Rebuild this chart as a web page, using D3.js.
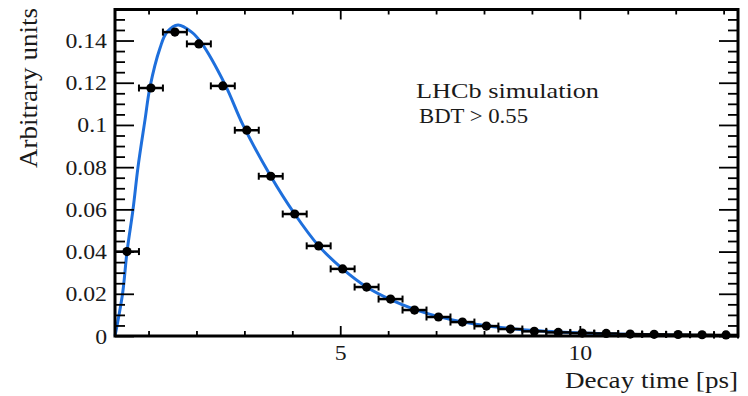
<!DOCTYPE html>
<html><head><meta charset="utf-8">
<script src="https://cdn.jsdelivr.net/npm/d3@7"></script>
<style>body{margin:0;background:#fff} svg{display:block} text{font-family:"Liberation Serif","Times New Roman",Times,"DejaVu Serif",serif;}</style>
</head><body><svg id="c" width="748" height="396"></svg>
<script>
// ---- data ----
const binCenters = [0.55, 1.05, 1.55, 2.05, 2.55, 3.05, 3.55, 4.05, 4.55, 5.05, 5.55, 6.05, 6.55,
                    7.05, 7.55, 8.05, 8.55, 9.05, 9.55, 10.05, 10.55, 11.05, 11.55, 12.05, 12.55, 13.05];
const binValues  = [0.0400, 0.1175, 0.1440, 0.1384, 0.1185, 0.0975, 0.0757, 0.0578, 0.0427, 0.0318,
                    0.0232, 0.0175, 0.0123, 0.0090, 0.0066, 0.0047, 0.0033, 0.0022, 0.0017, 0.0014,
                    0.0012, 0.0009, 0.0008, 0.0007, 0.0006, 0.0005];
const binHalfWidth = 0.25;

const fitTimes  = [0.30, 0.46, 0.55, 0.676, 0.78, 0.926, 1.03, 1.24, 1.385, 1.615, 1.90, 2.10, 2.60,
                   2.97, 3.55, 4.05, 4.55, 5.05, 5.55, 6.05, 6.55, 7.05, 7.55, 8.05, 8.55, 9.05,
                   9.55, 10.05, 11.05, 12.05, 13.30];
const fitValues = [0.0, 0.0204, 0.0398, 0.0600, 0.0800, 0.1024, 0.1180, 0.1365, 0.1440, 0.1474,
                   0.1440, 0.1390, 0.1190, 0.1000, 0.0757, 0.0578, 0.0427, 0.0318, 0.0232, 0.0172,
                   0.0126, 0.0092, 0.0067, 0.0049, 0.0036, 0.0026, 0.0019, 0.0014, 0.0008, 0.0004, 0.0002];

const yMajorTicks = [0, 0.02, 0.04, 0.06, 0.08, 0.10, 0.12, 0.14];
const yTickLabels = ["0", "0.02", "0.04", "0.06", "0.08", "0.1", "0.12", "0.14"];
const yMinorTicks = [0.005, 0.01, 0.015, 0.025, 0.03, 0.035, 0.045, 0.05, 0.055, 0.065, 0.07, 0.075,
                     0.085, 0.09, 0.095, 0.105, 0.11, 0.115, 0.125, 0.13, 0.135, 0.145, 0.15];
const xMajorTicks = [5, 10];
const xTickLabels = ["5", "10"];
const xMinorTicks = [1, 2, 3, 4, 6, 7, 8, 9, 11, 12, 13];

const xTitle = "Decay time [ps]";
const yTitle = "Arbitrary units";
const note1 = "LHCb simulation";
const note2 = "BDT > 0.55";

// ---- layout ----
const L = 115, R = 738, T = 9.5, B = 336;
const FONT = '"Liberation Serif","Times New Roman",Times,"DejaVu Serif",serif';
const svg = d3.select("#c");
const x = d3.scaleLinear([0.3, 13.3], [L, R]);
const y = d3.scaleLinear([0, 0.1547], [B, T]);

function stretch(sel, f) {
  sel.each(function () {
    const n = this.getComputedTextLength();
    this.setAttribute("textLength", n * f);
    this.setAttribute("lengthAdjust", "spacingAndGlyphs");
  });
}

// fit curve
const line = d3.line().x((d, i) => x(fitTimes[i])).y(d => y(d)).curve(d3.curveCatmullRom.alpha(0.5));
svg.append("path").attr("d", line(fitValues))
  .attr("fill", "none").attr("stroke", "#1e6fdc").attr("stroke-width", 3);

// error bars and markers
const pts = svg.append("g");
binCenters.forEach((c, i) => {
  const yy = y(binValues[i]);
  const x0 = x(c - binHalfWidth), x1 = x(c + binHalfWidth);
  pts.append("line").attr("x1", x0).attr("x2", x1).attr("y1", yy).attr("y2", yy)
    .attr("stroke", "#000").attr("stroke-width", 2.5);
  [x0, x1].forEach(xc => pts.append("line").attr("x1", xc).attr("x2", xc)
    .attr("y1", yy - 3.5).attr("y2", yy + 3.5).attr("stroke", "#000").attr("stroke-width", 2));
  pts.append("circle").attr("cx", x(c)).attr("cy", yy).attr("r", 4.6).attr("fill", "#000");
});

// axes (ticks inward)
function styleAxis(g) {
  g.select(".domain").remove();
  g.selectAll(".tick line").attr("stroke", "#000").attr("stroke-width", 1.8);
  g.selectAll("text").style("font-family", FONT).attr("font-size", 22).attr("fill", "#1a1a1a");
}
const yLab = d => yTickLabels[yMajorTicks.indexOf(d)];
const xLab = d => xTickLabels[xMajorTicks.indexOf(d)];

const gl = svg.append("g").attr("transform", `translate(${L},0)`)
  .call(d3.axisLeft(y).tickValues(yMajorTicks).tickSize(-19).tickPadding(8).tickFormat(yLab)).call(styleAxis);
stretch(gl.selectAll("text"), 1.08);
svg.append("g").attr("transform", `translate(${L},0)`)
  .call(d3.axisLeft(y).tickValues(yMinorTicks).tickSize(-10).tickFormat("")).call(styleAxis);
svg.append("g").attr("transform", `translate(${R},0)`)
  .call(d3.axisRight(y).tickValues(yMajorTicks).tickSize(-19).tickFormat("")).call(styleAxis);
svg.append("g").attr("transform", `translate(${R},0)`)
  .call(d3.axisRight(y).tickValues(yMinorTicks).tickSize(-10).tickFormat("")).call(styleAxis);

const gb = svg.append("g").attr("transform", `translate(0,${B})`)
  .call(d3.axisBottom(x).tickValues(xMajorTicks).tickSize(-10).tickPadding(8).tickFormat(xLab)).call(styleAxis);
stretch(gb.selectAll("text"), 1.08);
svg.append("g").attr("transform", `translate(0,${B})`)
  .call(d3.axisBottom(x).tickValues(xMinorTicks).tickSize(-5).tickFormat("")).call(styleAxis);
svg.append("g").attr("transform", `translate(0,${T})`)
  .call(d3.axisTop(x).tickValues(xMajorTicks).tickSize(-10).tickFormat("")).call(styleAxis);
svg.append("g").attr("transform", `translate(0,${T})`)
  .call(d3.axisTop(x).tickValues(xMinorTicks).tickSize(-5).tickFormat("")).call(styleAxis);

// frame
svg.append("rect").attr("x", L).attr("y", T).attr("width", R - L).attr("height", B - T)
  .attr("fill", "none").attr("stroke", "#000").attr("stroke-width", 3);

// titles
function txt(s, size) {
  return svg.append("text").text(s).style("font-family", FONT).attr("font-size", size).attr("fill", "#1a1a1a");
}
txt(xTitle, 24).attr("x", R).attr("y", 388).attr("text-anchor", "end")
  .attr("textLength", 173).attr("lengthAdjust", "spacingAndGlyphs");
txt(yTitle, 25).attr("transform", "translate(37,8) rotate(-90)").attr("text-anchor", "end")
  .attr("textLength", 160).attr("lengthAdjust", "spacingAndGlyphs");

// annotation
txt(note1, 22).attr("x", 416).attr("y", 98)
  .attr("textLength", 183).attr("lengthAdjust", "spacingAndGlyphs");
txt(note2, 20).attr("x", 419).attr("y", 123)
  .attr("textLength", 109).attr("lengthAdjust", "spacingAndGlyphs");
</script></body></html>
